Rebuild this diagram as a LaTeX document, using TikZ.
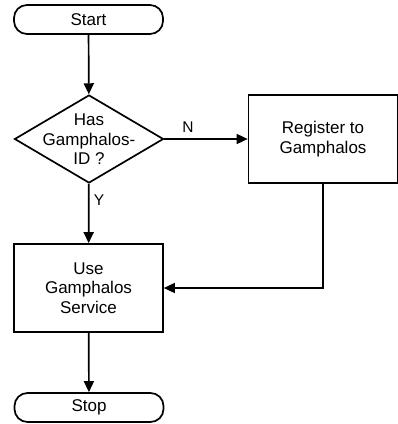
\documentclass[tikz,border=0pt]{standalone}
\usepackage{fontspec}
\setmainfont{Liberation Sans}
\usetikzlibrary{shapes.geometric,arrows.meta}
\begin{document}
\begin{tikzpicture}[x=1pt,y=-1pt,
  line width=1.7pt,
  every node/.style={font=\fontsize{17}{19.5}\selectfont, inner sep=0pt, align=center},
  term/.style={draw, rounded corners=13pt, minimum width=149pt, minimum height=29pt},
  proc/.style={draw, minimum width=149pt, minimum height=88pt},
  dec/.style={draw, diamond, minimum width=149pt, minimum height=88pt},
  arr/.style={-{Triangle[length=11pt,width=10pt]}},
  lbl/.style={font=\fontsize{15.5}{18}\selectfont}]
\useasboundingbox (0,0) rectangle (398,424);
\node[term] (start) at (88.5,19.5) {Start};
\node[dec] (has) at (89,139) {};
\node (hastext) at (89,139.5) {Has\\Gamphalos-\\ID ?};
\node[proc] (reg) at (323,139) {Register to\\Gamphalos};
\node[proc] (use) at (88.5,288) {Use\\Gamphalos\\Service};
\node[term] (stop) at (89,407.5) {Stop};
\node[lbl] (n) at (188,127) {N};
\node[lbl] (y) at (99,200) {Y};
\draw[arr] (start) -- (has);
\draw[arr] (has) -- (reg);
\draw[arr] (has) -- (use);
\draw[arr] (reg.south) |- (use.east);
\draw[arr] (use) -- (stop);
\end{tikzpicture}
\end{document}
